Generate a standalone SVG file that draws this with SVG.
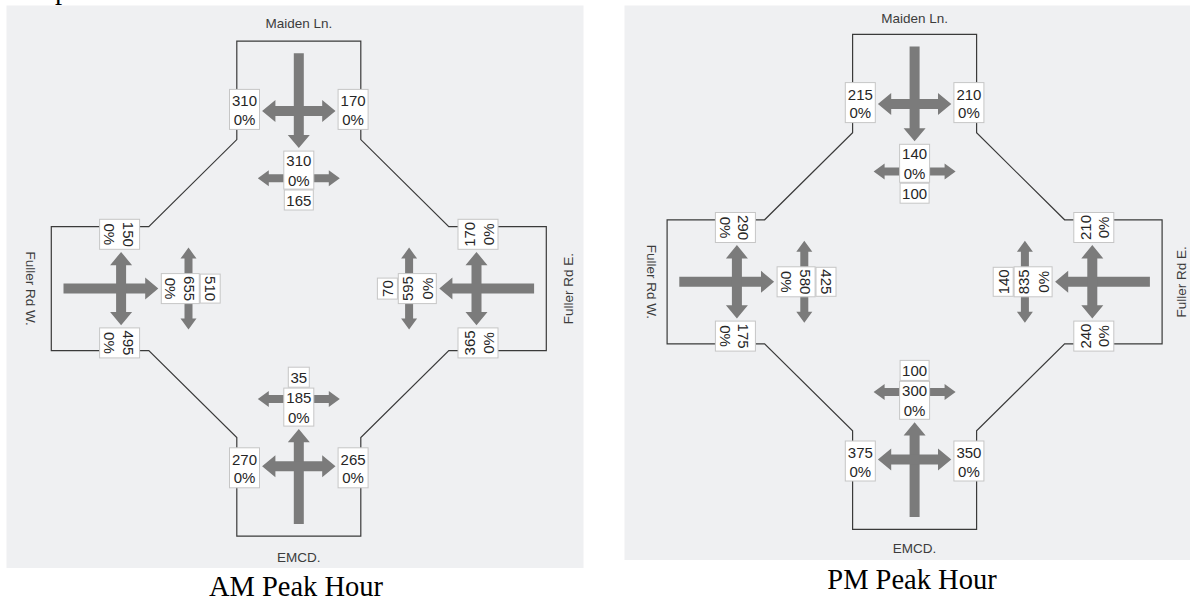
<svg xmlns="http://www.w3.org/2000/svg" xmlns:xlink="http://www.w3.org/1999/xlink" width="1190" height="602" viewBox="0 0 1190 602">
<style>
.panel{fill:#eff0f2}
.road{fill:none;stroke:#3a3a3a;stroke-width:1.2}
.arr{fill:#7b7b7b}
.bx{fill:#fff;stroke:#c6c6c6;stroke-width:1}
.n{font-family:"Liberation Sans",Arial,sans-serif;font-size:15px;fill:#262626;text-anchor:middle}
.lbl{font-family:"Liberation Sans",Arial,sans-serif;font-size:13.5px;fill:#3c3c3c;text-anchor:middle}
.cap{font-family:"Liberation Serif","Times New Roman",serif;font-size:28.5px;fill:#000;text-anchor:middle}
</style>
<defs>
<path id="outline" d="M-62,-149 V-247.5 H62 V-149 L150,-62 H247.5 V62 H150 L62,149 V247.5 H-62 V149 L-150,62 H-247.5 V-62 H-150 Z"/>
<g id="appr">
<path d="M-5,-235.3 H5 V-153.6 H11 L0,-140.5 L-11,-153.6 H-5 Z"/>
<path d="M-36.7,-177.7 L-23.4,-188.7 V-182.7 H23.4 V-188.7 L36.7,-177.7 L23.4,-166.7 V-172.7 H-23.4 V-166.7 Z"/>
<path d="M-41,-110.3 L-30,-118.3 V-114.3 H30 V-118.3 L41,-110.3 L30,-102.3 V-106.3 H-30 V-102.3 Z"/>
</g>
<rect id="b2" class="bx" x="-15" y="-20" width="30" height="40"/>
<rect id="bc" class="bx" x="-15" y="-19" width="30" height="38"/>
<rect id="b3" class="bx" x="-14.5" y="-10" width="29" height="20"/>
<rect id="b1" class="bx" x="-10.5" y="-10" width="21" height="20"/>
</defs>

<text x="55" y="-1.5" class="cap" style="text-anchor:start">p</text>

<!-- AM PEAK HOUR -->
<g id="am">
<rect class="panel" x="6.5" y="5.5" width="577" height="562.5"/>
<g id="am-roads">
<use xlink:href="#outline" href="#outline" class="road" transform="translate(298.8,288.6)"/>
</g>
<g id="am-arrows" class="arr">
<use xlink:href="#appr" href="#appr" transform="translate(298.8,288.6)"/>
<use xlink:href="#appr" href="#appr" transform="translate(298.8,288.6) rotate(180)"/>
<use xlink:href="#appr" href="#appr" transform="translate(298.8,288.6) rotate(-90)"/>
<use xlink:href="#appr" href="#appr" transform="translate(298.8,288.6) rotate(90)"/>
</g>
<g id="am-maiden">
<g transform="translate(244.5,109.4)"><use href="#b2" xlink:href="#b2"/><text class="n" y="-3">310</text><text class="n" y="15.5">0%</text></g>
<g transform="translate(353.1,109.4)"><use href="#b2" xlink:href="#b2"/><text class="n" y="-3">170</text><text class="n" y="15.5">0%</text></g>
<g transform="translate(298.8,170.1)"><use href="#bc" xlink:href="#bc"/><text class="n" y="-4">310</text><text class="n" y="15.5">0%</text></g>
<g transform="translate(298.8,200)"><use href="#b3" xlink:href="#b3"/><text class="n" y="5.5">165</text></g>
<text class="lbl" x="298.8" y="27.5">Maiden Ln.</text>
</g>
<g id="am-emcd">
<g transform="translate(244.5,467.8)"><use href="#b2" xlink:href="#b2"/><text class="n" y="-3">270</text><text class="n" y="15.5">0%</text></g>
<g transform="translate(353.1,467.8)"><use href="#b2" xlink:href="#b2"/><text class="n" y="-3">265</text><text class="n" y="15.5">0%</text></g>
<g transform="translate(298.8,407.1)"><use href="#bc" xlink:href="#bc"/><text class="n" y="-4">185</text><text class="n" y="15.5">0%</text></g>
<g transform="translate(298.8,377.2)"><use href="#b1" xlink:href="#b1"/><text class="n" y="5.5">35</text></g>
<text class="lbl" x="298.8" y="561.5">EMCD.</text>
</g>
<g id="am-fullerw">
<g transform="translate(119.6,234.3) rotate(90)"><use href="#b2" xlink:href="#b2"/><text class="n" y="-3">150</text><text class="n" y="15.5">0%</text></g>
<g transform="translate(119.6,342.9) rotate(90)"><use href="#b2" xlink:href="#b2"/><text class="n" y="-3">495</text><text class="n" y="15.5">0%</text></g>
<g transform="translate(180.3,288.6) rotate(90)"><use href="#bc" xlink:href="#bc"/><text class="n" y="-4">655</text><text class="n" y="15.5">0%</text></g>
<g transform="translate(210.2,288.6) rotate(90)"><use href="#b3" xlink:href="#b3"/><text class="n" y="5.5">510</text></g>
<text class="lbl" transform="translate(25.5,288.6) rotate(90)">Fuller Rd W.</text>
</g>
<g id="am-fullere">
<g transform="translate(478,234.3) rotate(-90)"><use href="#b2" xlink:href="#b2"/><text class="n" y="-3">170</text><text class="n" y="15.5">0%</text></g>
<g transform="translate(478,342.9) rotate(-90)"><use href="#b2" xlink:href="#b2"/><text class="n" y="-3">365</text><text class="n" y="15.5">0%</text></g>
<g transform="translate(417.3,288.6) rotate(-90)"><use href="#bc" xlink:href="#bc"/><text class="n" y="-4">595</text><text class="n" y="15.5">0%</text></g>
<g transform="translate(387.4,288.6) rotate(-90)"><use href="#b1" xlink:href="#b1"/><text class="n" y="5.5">70</text></g>
<text class="lbl" transform="translate(572.5,288.6) rotate(-90)">Fuller Rd E.</text>
</g>
<text class="cap" x="296" y="596">AM Peak Hour</text>
</g>

<!-- PM PEAK HOUR -->
<g id="pm">
<rect class="panel" x="624.5" y="5.5" width="566" height="554.5"/>
<g id="pm-roads">
<use xlink:href="#outline" href="#outline" class="road" transform="translate(914.6,281.8)"/>
</g>
<g id="pm-arrows" class="arr">
<use xlink:href="#appr" href="#appr" transform="translate(914.6,281.8)"/>
<use xlink:href="#appr" href="#appr" transform="translate(914.6,281.8) rotate(180)"/>
<use xlink:href="#appr" href="#appr" transform="translate(914.6,281.8) rotate(-90)"/>
<use xlink:href="#appr" href="#appr" transform="translate(914.6,281.8) rotate(90)"/>
</g>
<g id="pm-maiden">
<g transform="translate(860.3,102.6)"><use href="#b2" xlink:href="#b2"/><text class="n" y="-3">215</text><text class="n" y="15.5">0%</text></g>
<g transform="translate(968.9,102.6)"><use href="#b2" xlink:href="#b2"/><text class="n" y="-3">210</text><text class="n" y="15.5">0%</text></g>
<g transform="translate(914.6,163.3)"><use href="#bc" xlink:href="#bc"/><text class="n" y="-4">140</text><text class="n" y="15.5">0%</text></g>
<g transform="translate(914.6,193.2)"><use href="#b3" xlink:href="#b3"/><text class="n" y="5.5">100</text></g>
<text class="lbl" x="914.6" y="23">Maiden Ln.</text>
</g>
<g id="pm-emcd">
<g transform="translate(860.3,461)"><use href="#b2" xlink:href="#b2"/><text class="n" y="-3">375</text><text class="n" y="15.5">0%</text></g>
<g transform="translate(968.9,461)"><use href="#b2" xlink:href="#b2"/><text class="n" y="-3">350</text><text class="n" y="15.5">0%</text></g>
<g transform="translate(914.6,400.3)"><use href="#bc" xlink:href="#bc"/><text class="n" y="-4">300</text><text class="n" y="15.5">0%</text></g>
<g transform="translate(914.6,370.4)"><use href="#b3" xlink:href="#b3"/><text class="n" y="5.5">100</text></g>
<text class="lbl" x="914.6" y="553">EMCD.</text>
</g>
<g id="pm-fullerw">
<g transform="translate(735.4,227.5) rotate(90)"><use href="#b2" xlink:href="#b2"/><text class="n" y="-3">290</text><text class="n" y="15.5">0%</text></g>
<g transform="translate(735.4,336.1) rotate(90)"><use href="#b2" xlink:href="#b2"/><text class="n" y="-3">175</text><text class="n" y="15.5">0%</text></g>
<g transform="translate(796.1,281.8) rotate(90)"><use href="#bc" xlink:href="#bc"/><text class="n" y="-4">580</text><text class="n" y="15.5">0%</text></g>
<g transform="translate(826,281.8) rotate(90)"><use href="#b3" xlink:href="#b3"/><text class="n" y="5.5">425</text></g>
<text class="lbl" transform="translate(646.5,281.8) rotate(90)">Fuller Rd W.</text>
</g>
<g id="pm-fullere">
<g transform="translate(1093.8,227.5) rotate(-90)"><use href="#b2" xlink:href="#b2"/><text class="n" y="-3">210</text><text class="n" y="15.5">0%</text></g>
<g transform="translate(1093.8,336.1) rotate(-90)"><use href="#b2" xlink:href="#b2"/><text class="n" y="-3">240</text><text class="n" y="15.5">0%</text></g>
<g transform="translate(1033.1,281.8) rotate(-90)"><use href="#bc" xlink:href="#bc"/><text class="n" y="-4">835</text><text class="n" y="15.5">0%</text></g>
<g transform="translate(1003.2,281.8) rotate(-90)"><use href="#b3" xlink:href="#b3"/><text class="n" y="5.5">140</text></g>
<text class="lbl" transform="translate(1186,281.8) rotate(-90)">Fuller Rd E.</text>
</g>
<text class="cap" x="912" y="588.5">PM Peak Hour</text>
</g>
</svg>
